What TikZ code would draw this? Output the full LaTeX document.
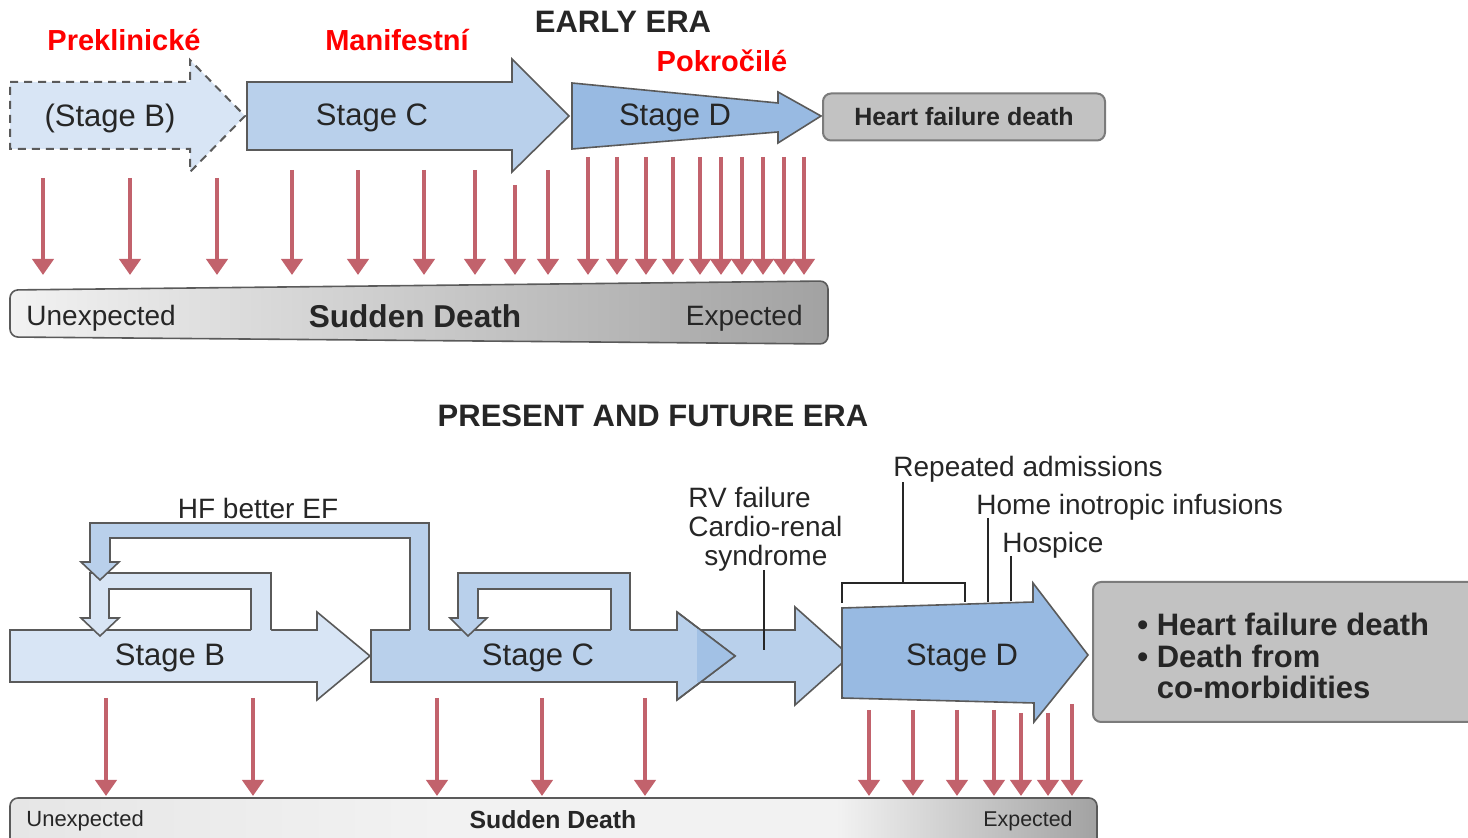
\documentclass[tikz,border=0pt]{standalone}
\usepackage{fontspec}
\setmainfont{Liberation Sans}
\usetikzlibrary{arrows.meta}

\definecolor{stageB}{HTML}{D8E5F5}
\definecolor{stageC}{HTML}{B9D0EB}
\definecolor{stageD}{HTML}{98BAE2}
\definecolor{overlapC}{HTML}{A2C1E5}
\definecolor{edgegray}{HTML}{5A5A5A}
\definecolor{sdred}{HTML}{C2626C}
\definecolor{boxgray}{HTML}{C2C2C2}
\definecolor{inkgray}{HTML}{262626}
\definecolor{barlight}{HTML}{F2F2F2}
\definecolor{barleft}{HTML}{E6E6E6}
\definecolor{bardark}{HTML}{A2A2A2}
\pgfdeclarehorizontalshading{sdbottom}{100bp}{color(0bp)=(barleft); color(25bp)=(barleft); color(45bp)=(barlight); color(63bp)=(barlight); color(75bp)=(bardark); color(100bp)=(bardark)}

\begin{document}
\begin{tikzpicture}[x=0.5pt, y=-0.5pt,
    stage/.style={draw=edgegray, line width=0.8pt},
    leader/.style={draw=inkgray, line width=1pt},
    sdarrow/.style={draw=sdred, line width=2.1pt, -{Triangle[width=10.5pt,length=8pt]}},
    lbl/.style={inner sep=0pt, text=inkgray, font=\fontsize{14}{14.5}\selectfont},
    stagelbl/.style={inner sep=0pt, text=inkgray, font=\fontsize{15.5}{18}\selectfont},
    redlbl/.style={inner sep=0pt, text=red, font=\bfseries\fontsize{14.5}{17}\selectfont},
    eratitle/.style={inner sep=0pt, text=inkgray, font=\bfseries\fontsize{15.5}{18}\selectfont}]

  \useasboundingbox (0,0) rectangle (1468,838);

  % EARLY ERA
  \node [eratitle] (early) at (623,22) {EARLY ERA};
  \node [redlbl]   (prekl) at (124,40) {Preklinické};
  \node [redlbl]   (manif) at (397,40) {Manifestní};
  \node [redlbl]   (pokro) at (722,61) {Pokročilé};

  % stages
  \draw [stage, fill=stageB, dash pattern=on 4pt off 3pt, line width=1pt]
        (10,82) -- (190,82) -- (190,60) -- (245,116) -- (190,172) -- (190,149) -- (10,149) -- cycle;
  \draw [stage, fill=stageC] (247,82) -- (512,82) -- (512,59) -- (569,116) -- (512,172) -- (512,150) -- (247,150) -- cycle;
  \draw [stage, fill=stageD] (572,83) -- (778,103) -- (778,92) -- (821,116) -- (778,143) -- (778,132) -- (572,149) -- cycle;
  \node [stagelbl] (tstageb) at (110,118) {(Stage B)};
  \node [stagelbl] (tstagec) at (372,118) {Stage C};
  \node [stagelbl] (tstaged) at (675,118) {Stage D};
  \node [draw=edgegray!80, line width=1pt, fill=boxgray, rounded corners=4pt,
         minimum width=141pt, minimum height=23.5pt, text=inkgray,
         font=\bfseries\fontsize{12.5}{15}\selectfont] (hfdeath) at (964,117) {Heart failure death};

  % sudden death
  \foreach \x/\y in {43/178, 130/178, 217/178, 292/170, 358/170, 424/170, 475/170, 515/185, 548/170,
                     588/157, 617/157, 646/157, 673/157, 700/157, 721/157, 742/157, 763/157, 784/157, 804/157}
    \draw [sdarrow] (\x,\y) -- (\x,275);
  \shadedraw [left color=barlight, right color=bardark, draw=edgegray, line width=0.8pt, rounded corners=4pt]
        (10,290) -- (828,281) -- (828,344) -- (10,337) -- cycle;
  \node [lbl, anchor=west] (unexp) at (26,318) {Unexpected};
  \node [lbl, font=\bfseries\fontsize{15.8}{18}\selectfont] (sudden) at (415,316) {Sudden Death};
  \node [lbl, anchor=east] (expec) at (803,318) {Expected};

  % PRESENT AND FUTURE ERA
  \node [eratitle] (present) at (653,416) {PRESENT AND FUTURE ERA};

  % stages
  \draw [stage, fill=stageB] (10,630) -- (317,630) -- (317,612) -- (370,656) -- (317,700) -- (317,682) -- (10,682) -- cycle;
  \draw [stage, fill=stageC] (697,630) -- (795,630) -- (795,607) -- (850,656) -- (795,705) -- (795,682) -- (697,682) -- cycle;
  \draw [stage, fill=stageC] (371,630) -- (677,630) -- (677,612) -- (735,656) -- (677,700) -- (677,682) -- (371,682) -- cycle;
  \begin{scope}
    \clip (697,630) rectangle (735,682);
    \fill [overlapC] (677,612) -- (735,656) -- (677,700) -- cycle;
  \end{scope}
  \draw [stage] (677,612) -- (735,656) -- (677,700);
  \draw [stage, fill=stageD] (842,608) -- (1033,602) -- (1033,583) -- (1088,655) -- (1034,722) -- (1034,703) -- (842,698) -- cycle;

  % loops
  \fill [stageB] (251,633) -- (251,589) -- (109,589) -- (109,618) -- (119,618) -- (100,636) -- (81,618)
        -- (90,618) -- (90,573) -- (271,573) -- (271,633) -- cycle;
  \draw [stage] (251,630) -- (251,589) -- (109,589) -- (109,618) -- (119,618) -- (100,636) -- (81,618)
        -- (90,618) -- (90,573) -- (271,573) -- (271,630);
  \fill [stageC] (410,633) -- (410,538) -- (110,538) -- (110,562) -- (119,562) -- (100,580) -- (81,562)
        -- (90,562) -- (90,523) -- (429,523) -- (429,633) -- cycle;
  \draw [stage] (410,630) -- (410,538) -- (110,538) -- (110,562) -- (119,562) -- (100,580) -- (81,562)
        -- (90,562) -- (90,523) -- (429,523) -- (429,630);
  \fill [stageC] (611,633) -- (611,589) -- (478,589) -- (478,618) -- (487,618) -- (468,636) -- (450,618)
        -- (458,618) -- (458,573) -- (630,573) -- (630,633) -- cycle;
  \draw [stage] (611,630) -- (611,589) -- (478,589) -- (478,618) -- (487,618) -- (468,636) -- (450,618)
        -- (458,618) -- (458,573) -- (630,573) -- (630,630);

  \node [stagelbl] (bstageb) at (170,658) {Stage B};
  \node [stagelbl] (bstagec) at (538,658) {Stage C};
  \node [stagelbl] (bstaged) at (962,658) {Stage D};
  \node [lbl] (hfbetter) at (258,508) {HF better EF};

  % annotations
  \node [lbl, anchor=west, align=left] (rvfail) at (688,529) {RV failure\\Cardio-renal\\\hspace*{8pt}syndrome};
  \draw [leader] (764,650) -- (764,570);
  \node [lbl, anchor=west] (repadm) at (893,469) {Repeated admissions};
  \draw [leader] (842,603) -- (842,583) -- (965,583) -- (965,602);
  \draw [leader] (903,583) -- (903,482);
  \node [lbl, anchor=west] (homeino) at (976,507) {Home inotropic infusions};
  \draw [leader] (988,602) -- (988,518);
  \node [lbl, anchor=west] (hospice) at (1002,545) {Hospice};
  \draw [leader] (1011,601) -- (1011,556);

  % outcome
  \draw [draw=edgegray!80, line width=1pt, fill=boxgray, rounded corners=4pt] (1093,582) rectangle (1490,722);
  \node [lbl, anchor=west, align=left, font=\bfseries\fontsize{15.5}{15.7}\selectfont] (outcome) at (1137,656)
        {\textbullet\ Heart failure death\\\textbullet\ Death from\\\phantom{\textbullet\ }co-morbidities};

  % sudden death
  \foreach \x/\y in {106/698, 253/698, 437/698, 542/698, 645/698, 869/710, 913/710, 957/710, 994/710,
                     1021/713, 1048/713, 1072/704}
    \draw [sdarrow] (\x,\y) -- (\x,796);
  \shadedraw [shading=sdbottom, draw=edgegray, line width=0.8pt, rounded corners=4pt] (10,798) rectangle (1097,850);
  \node [lbl, anchor=west, font=\fontsize{11}{13}\selectfont] (bunexp) at (26,821) {Unexpected};
  \node [lbl, font=\bfseries\fontsize{12.4}{14}\selectfont] (bsudden) at (553,820) {Sudden Death};
  \node [lbl, anchor=east, font=\fontsize{10.7}{13}\selectfont] (bexpec) at (1073,821) {Expected};
\end{tikzpicture}
\end{document}
